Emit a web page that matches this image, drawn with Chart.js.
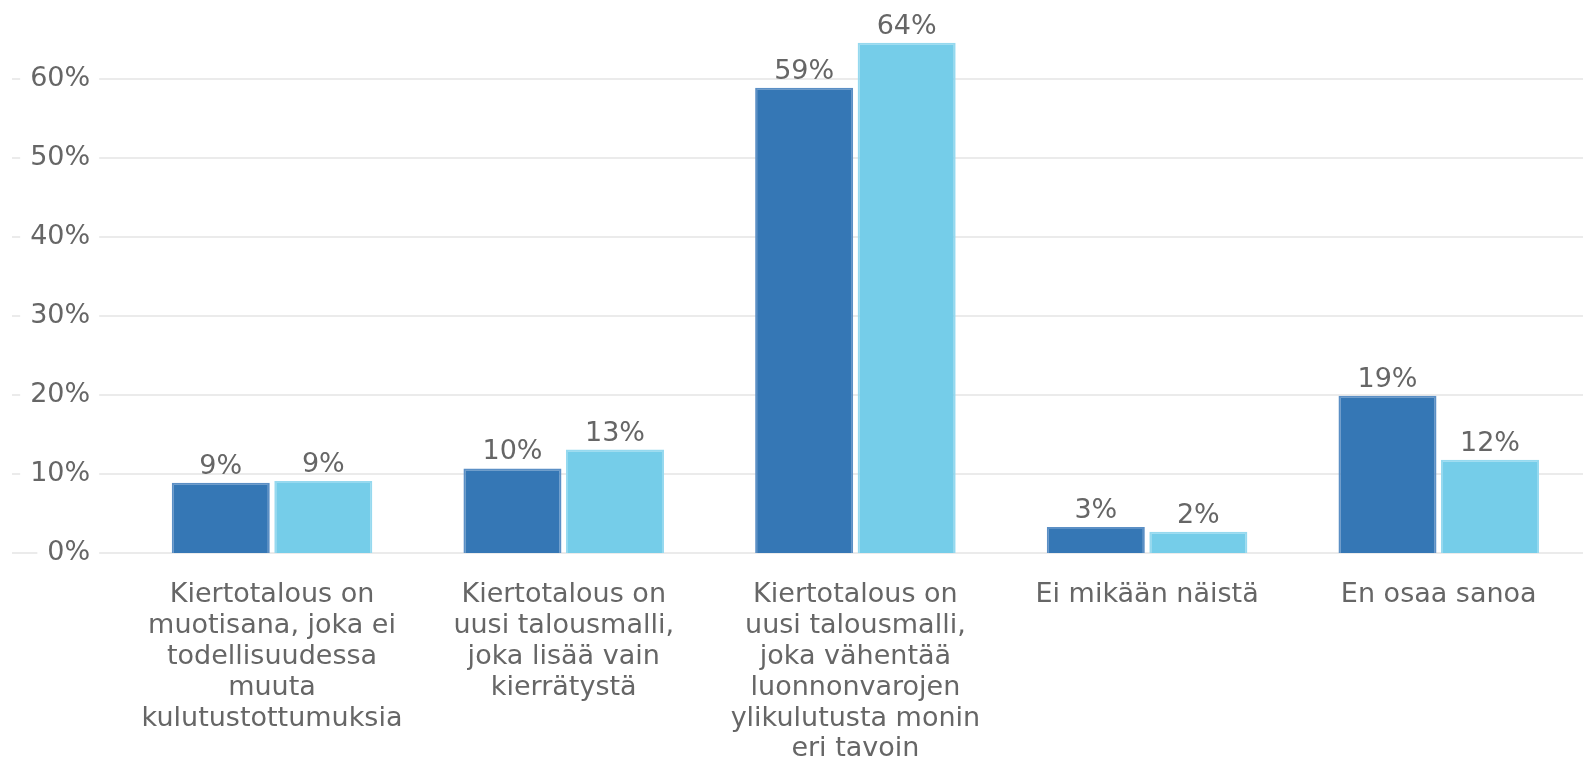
<!DOCTYPE html>
<html>
<head>
<meta charset="utf-8">
<script src="https://cdn.jsdelivr.net/npm/chart.js@4.4.1/dist/chart.umd.min.js"></script>
<style>
  html, body { margin: 0; padding: 0; background: #ffffff; overflow: hidden; }
  #wrap { position: relative; width: 1600px; height: 763px; }
</style>
</head>
<body>
<div id="wrap"><canvas id="c"></canvas></div>
<script>
// ---- data ----
const categories = [
  ["Kiertotalous on", "muotisana, joka ei", "todellisuudessa", "muuta", "kulutustottumuksia"],
  ["Kiertotalous on", "uusi talousmalli,", "joka lisää vain", "kierrätystä"],
  ["Kiertotalous on", "uusi talousmalli,", "joka vähentää", "luonnonvarojen", "ylikulutusta monin", "eri tavoin"],
  "Ei mikään näistä",
  "En osaa sanoa"
];
const seriesA = [8.9, 10.7, 58.9, 3.3, 19.9];
const seriesB = [9.1, 13.1, 64.6, 2.7, 11.8];
const labelsA = ["9%", "10%", "59%", "3%", "19%"];
const labelsB = ["9%", "13%", "64%", "2%", "12%"];
const yTicks = [0, 10, 20, 30, 40, 50, 60];

const FONT = "'DejaVu Sans', Verdana, sans-serif";
const TEXT = '#666666';

// gridlines extending from the far left, under the tick labels
const gridPlugin = {
  id: 'gridExt',
  beforeDraw(chart) {
    const ctx = chart.ctx;
    const y = chart.scales.y;
    ctx.save();
    ctx.strokeStyle = '#ebebeb';
    ctx.lineWidth = 2;
    yTicks.forEach(v => {
      const py = Math.round(y.getPixelForValue(v));
      ctx.beginPath();
      ctx.moveTo(12, py);
      ctx.lineTo(chart.width, py);
      ctx.stroke();
    });
    ctx.restore();
  }
};

// value labels above bars
const valuePlugin = {
  id: 'valueLabels',
  afterDatasetsDraw(chart) {
    const ctx = chart.ctx;
    const all = [labelsA, labelsB];
    ctx.save();
    ctx.font = '27px ' + FONT;
    ctx.fillStyle = TEXT;
    ctx.textAlign = 'center';
    ctx.textBaseline = 'alphabetic';
    chart.data.datasets.forEach((ds, di) => {
      const meta = chart.getDatasetMeta(di);
      meta.data.forEach((bar, i) => {
        ctx.fillText(all[di][i], bar.x, bar.y - 9);
      });
    });
    ctx.restore();
  }
};

new Chart(document.getElementById('c'), {
  type: 'bar',
  data: {
    labels: categories,
    datasets: [
      {
        data: seriesA,
        backgroundColor: '#3577b5',
        borderColor: '#5b8fc5',
        borderWidth: 2,
        barPercentage: 0.956,
        categoryPercentage: 0.703
      },
      {
        data: seriesB,
        backgroundColor: '#75cde9',
        borderColor: '#96d9ef',
        borderWidth: 2,
        barPercentage: 0.956,
        categoryPercentage: 0.703
      }
    ]
  },
  options: {
    responsive: true,
    maintainAspectRatio: false,
    animation: false,
    layout: { padding: { left: 0, right: 15.4, top: 0, bottom: 0 } },
    plugins: {
      legend: { display: false },
      tooltip: { enabled: false }
    },
    scales: {
      x: {
        grid: { display: false, drawTicks: false },
        border: { display: false },
        ticks: {
          color: TEXT,
          font: { family: FONT, size: 27, lineHeight: 1.14 },
          padding: 27,
          maxRotation: 0,
          autoSkip: false
        },
        afterFit(scale) {
          scale.height = 210;
        }
      },
      y: {
        min: 0,
        max: 70,
        grid: { display: false, drawTicks: false },
        border: { display: false },
        ticks: {
          stepSize: 10,
          color: TEXT,
          font: { family: FONT, size: 27 },
          padding: 36,
          showLabelBackdrop: true,
          backdropColor: '#ffffff',
          backdropPadding: { left: 10, right: 9, top: 2, bottom: 2 },
          callback: (v) => (yTicks.includes(v) ? v + '%' : null)
        },
        afterFit(scale) {
          scale.width = 126.2;
          scale.paddingTop = 0;
          scale.paddingBottom = 0;
        }
      }
    }
  },
  plugins: [gridPlugin, valuePlugin]
});
</script>
</body>
</html>
